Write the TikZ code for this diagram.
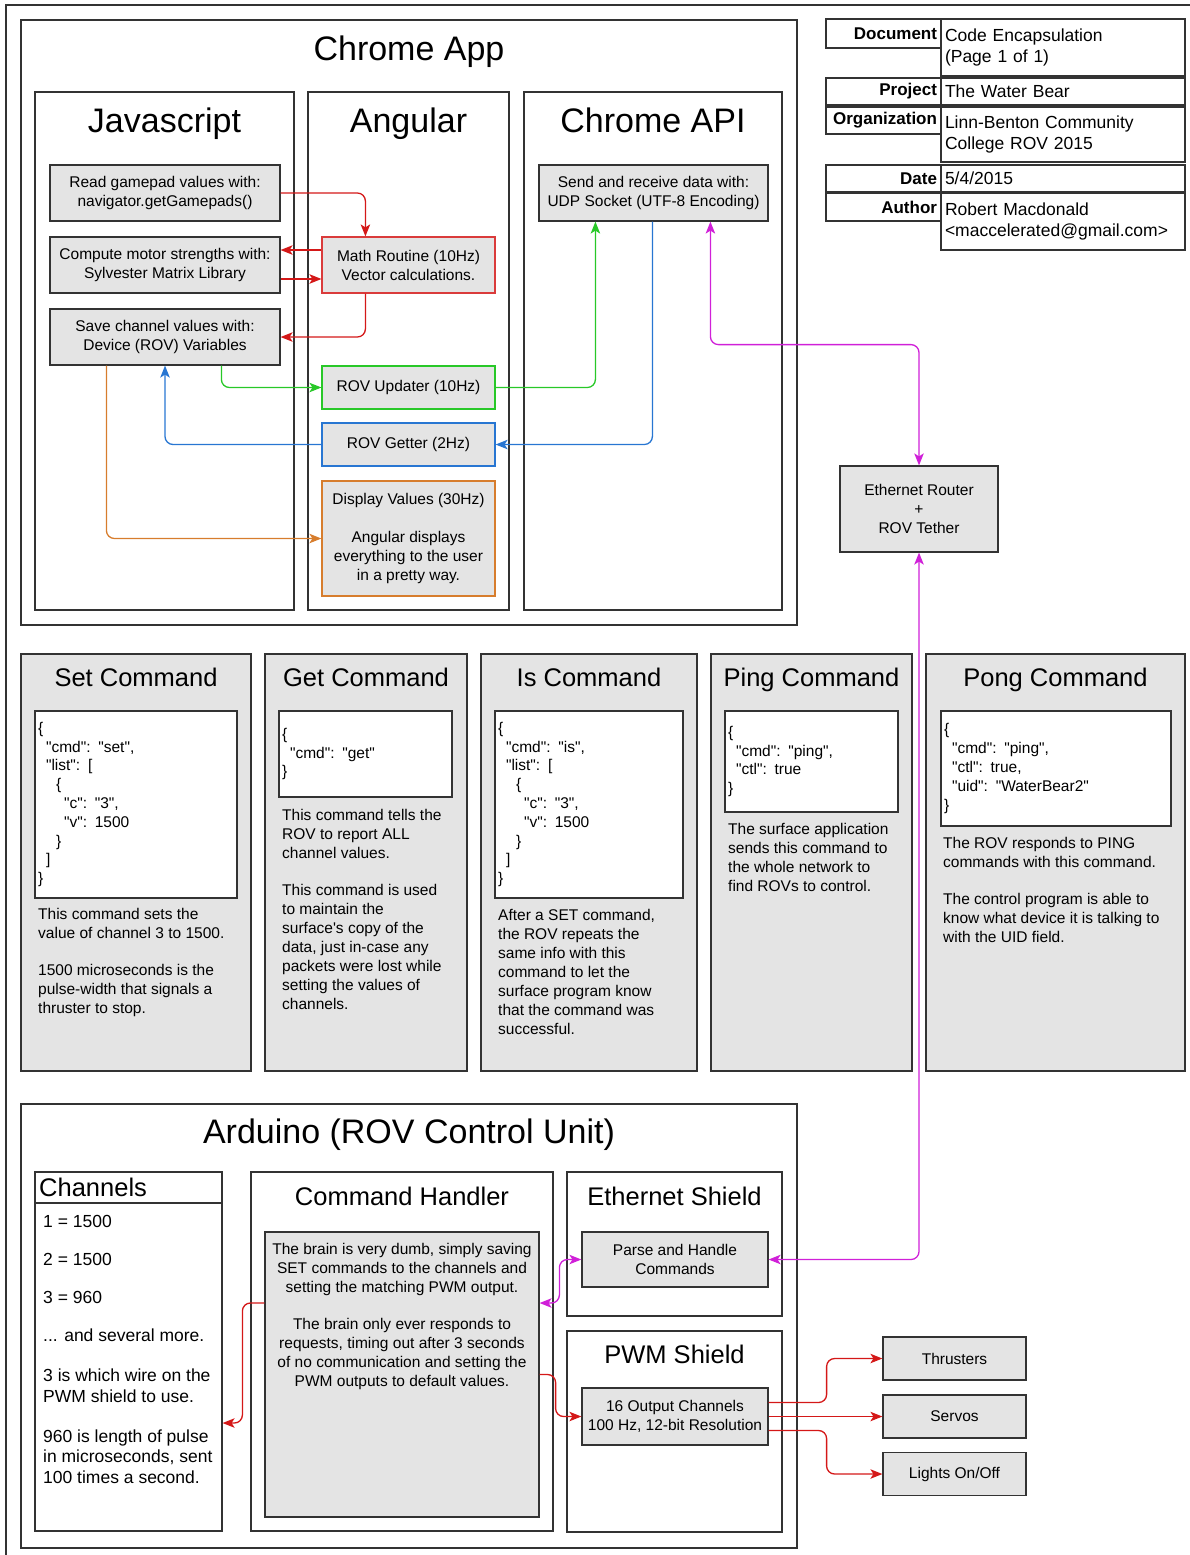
\documentclass[tikz,border=0pt]{standalone}
\usepackage{fontspec}
\setmainfont{Liberation Sans}[Ligatures=TeXOff]
\usetikzlibrary{arrows.meta}

\definecolor{boxgray}{RGB}{228,228,228}
\definecolor{framegray}{RGB}{51,51,51}
\definecolor{rovred}{RGB}{212,24,24}
\definecolor{rovgreen}{RGB}{40,200,40}
\definecolor{rovblue}{RGB}{40,118,210}
\definecolor{rovorange}{RGB}{215,125,45}
\definecolor{rovmagenta}{RGB}{208,32,216}

\begin{document}
\begin{tikzpicture}
    [x=1pt,y=-1pt,
    panel/.style={draw=framegray,line width=1.2pt,inner sep=0pt},
    graypanel/.style={panel,fill=boxgray},
    process/.style={draw=framegray,fill=boxgray,line width=1.2pt,align=center,
      inner sep=2pt,font=\fontsize{15.5}{19}\selectfont},
    json/.style={draw=framegray,fill=white,line width=1.2pt,align=left,
      inner sep=3pt,font=\fontsize{15.5}{18.8}\selectfont},
    note/.style={anchor=north west,align=left,inner sep=3pt,
      font=\fontsize{15.5}{19}\selectfont},
    heading/.style={anchor=base,inner sep=0pt,font=\fontsize{34}{40}\selectfont},
    subheading/.style={anchor=base,inner sep=0pt,font=\fontsize{25.5}{30}\selectfont},
    keycell/.style={draw=framegray,line width=1.2pt,text width=107pt,inner sep=4pt,
      align=right,font=\fontsize{17}{21}\selectfont\bfseries},
    valcell/.style={draw=framegray,line width=1.2pt,text width=236pt,inner sep=4pt,
      align=left,font=\fontsize{17.5}{21.5}\selectfont},
    link/.style={line width=1.3pt,rounded corners=8pt,
      -{Stealth[length=12pt,width=9.5pt,inset=3pt]}},
    duplex/.style={line width=1.3pt,rounded corners=8pt,
      {Stealth[length=12pt,width=9.5pt,inset=3pt]}-{Stealth[length=12pt,width=9.5pt,inset=3pt]}}]

    \useasboundingbox (0,0) rectangle (1190,1555);

    \draw[framegray,line width=1.2pt] (6,1555) -- (6,5) -- (1190,5);

    % chrome app
    \node[panel,minimum width=776pt,minimum height=605pt] (chrome app) at (409,322.5) {};
    \node[heading] (chrome app title) at (409,60) {Chrome App};

    \node[panel,minimum width=259pt,minimum height=518pt] (javascript) at (164.5,351) {};
    \node[heading] (javascript title) at (164.5,132) {Javascript};

    \node[panel,minimum width=201pt,minimum height=518pt] (angular) at (408.5,351) {};
    \node[heading] (angular title) at (408.5,132) {Angular};

    \node[panel,minimum width=258pt,minimum height=518pt] (chrome api) at (653,351) {};
    \node[heading] (chrome api title) at (653,132) {Chrome API};

    \node[process,minimum width=230pt,minimum height=56pt] (read gamepad) at (165,193)
      {Read gamepad values with:\\navigator.getGamepads()};
    \node[process,minimum width=230pt,minimum height=56pt] (compute motor) at (165,265)
      {Compute motor strengths with:\\Sylvester Matrix Library};
    \node[process,minimum width=230pt,minimum height=56pt] (save channel) at (165,337)
      {Save channel values with:\\Device (ROV) Variables};

    \node[process,draw=rovred!85,minimum width=173pt,minimum height=56pt] (math routine) at (408.5,265)
      {Math Routine (10Hz)\\Vector calculations.};
    \node[process,draw=rovgreen,minimum width=173pt,minimum height=43pt] (rov updater) at (408.5,387.5)
      {ROV Updater (10Hz)};
    \node[process,draw=rovblue,minimum width=173pt,minimum height=43pt] (rov getter) at (408.5,444.5)
      {ROV Getter (2Hz)};
    \node[process,draw=rovorange,minimum width=173pt,minimum height=115pt] (display values) at (408.5,538.5)
      {Display Values (30Hz)\\[19pt]Angular displays\\everything to the user\\in a pretty way.};

    \node[process,minimum width=229pt,minimum height=56pt] (send receive) at (653.5,193)
      {Send and receive data with:\\UDP Socket (UTF-8 Encoding)};

    \node[process,minimum width=158pt,minimum height=86pt] (ethernet router) at (919,509)
      {Ethernet Router\\+\\ROV Tether};

    % title block
    \node[keycell,minimum height=29pt] (document key) at (883.5,33.5) {Document};
    \node[valcell,minimum height=57pt] (document value) at (1063,47.5) {Code Encapsulation\\(Page 1 of 1)};
    \node[keycell,minimum height=27pt] (project key) at (883.5,91.5) {Project};
    \node[valcell,minimum height=27pt] (project value) at (1063,91.5) {The Water Bear};
    \node[keycell,minimum height=27pt] (organization key) at (883.5,120.5) {Organization};
    \node[valcell,minimum height=55pt] (organization value) at (1063,134.5) {Linn-Benton Community\\College ROV 2015};
    \node[keycell,minimum height=27pt] (date key) at (883.5,178.5) {Date};
    \node[valcell,minimum height=27pt] (date value) at (1063,178.5) {5/4/2015};
    \node[keycell,minimum height=28pt] (author key) at (883.5,207) {Author};
    \node[valcell,minimum height=57pt] (author value) at (1063,221.5) {Robert Macdonald\\<maccelerated@gmail.com>};

    % commands
    \node[graypanel,minimum width=230pt,minimum height=417pt] (set command) at (136,862.5) {};
    \node[subheading] (set title) at (136,686) {Set Command};
    \node[json,text width=196pt,minimum height=187pt] (set json) at (136,804.5)
      {\{\\
       \hspace*{8pt}"cmd": "set",\\
       \hspace*{8pt}"list": [\\
       \hspace*{18pt}\{\\
       \hspace*{26pt}"c": "3",\\
       \hspace*{26pt}"v": 1500\\
       \hspace*{18pt}\}\\
       \hspace*{8pt}]\\
       \}};
    \node[note] (set note) at (35,905.5)
      {This command sets the\\value of channel 3 to 1500.\\[18pt]1500 microseconds is the\\pulse-width that signals a\\thruster to stop.};

    \node[graypanel,minimum width=202pt,minimum height=417pt] (get command) at (366,862.5) {};
    \node[subheading] (get title) at (366,686) {Get Command};
    \node[json,text width=167pt,minimum height=86pt] (get json) at (365.5,754)
      {\{\\
       \hspace*{8pt}"cmd": "get"\\
       \}};
    \node[note] (get note) at (279,806)
      {This command tells the\\ROV to report ALL\\channel values.\\[18pt]This command is used\\to maintain the\\surface's copy of the\\data, just in-case any\\packets were lost while\\setting the values of\\channels.};

    \node[graypanel,minimum width=216pt,minimum height=417pt] (is command) at (589,862.5) {};
    \node[subheading] (is title) at (589,686) {Is Command};
    \node[json,text width=182pt,minimum height=187pt] (is json) at (589,804.5)
      {\{\\
       \hspace*{8pt}"cmd": "is",\\
       \hspace*{8pt}"list": [\\
       \hspace*{18pt}\{\\
       \hspace*{26pt}"c": "3",\\
       \hspace*{26pt}"v": 1500\\
       \hspace*{18pt}\}\\
       \hspace*{8pt}]\\
       \}};
    \node[note] (is note) at (495,906.5)
      {After a SET command,\\the ROV repeats the\\same info with this\\command to let the\\surface program know\\that the command was\\successful.};

    \node[graypanel,minimum width=201pt,minimum height=417pt] (ping command) at (811.5,862.5) {};
    \node[subheading] (ping title) at (811.5,686) {Ping Command};
    \node[json,text width=167pt,minimum height=101pt] (ping json) at (811.5,761.5)
      {\{\\
       \hspace*{8pt}"cmd": "ping",\\
       \hspace*{8pt}"ctl": true\\
       \}};
    \node[note] (ping note) at (725,820.5)
      {The surface application\\sends this command to\\the whole network to\\find ROVs to control.};

    \node[graypanel,minimum width=259pt,minimum height=417pt] (pong command) at (1055.5,862.5) {};
    \node[subheading] (pong title) at (1055.5,686) {Pong Command};
    \node[json,text width=224pt,minimum height=115pt] (pong json) at (1056,768.5)
      {\{\\
       \hspace*{8pt}"cmd": "ping",\\
       \hspace*{8pt}"ctl": true,\\
       \hspace*{8pt}"uid": "WaterBear2"\\
       \}};
    \node[note] (pong note) at (940,834.5)
      {The ROV responds to PING\\commands with this command.\\[18pt]The control program is able to\\know what device it is talking to\\with the UID field.};

    % arduino
    \node[panel,minimum width=776pt,minimum height=444pt] (arduino) at (409,1326) {};
    \node[heading] (arduino title) at (409,1143) {Arduino (ROV Control Unit)};

    \node[panel,minimum width=187pt,minimum height=31pt] (channel head) at (128.5,1187.5) {};
    \node[subheading,anchor=base west] (channels title) at (39,1196) {Channels};
    \node[panel,minimum width=187pt,minimum height=328pt] (channel list) at (128.5,1367) {};
    \node[note,font=\fontsize{17.5}{20.5}\selectfont] (channel values) at (40,1212)
      {1 = 1500\\[17.5pt]2 = 1500\\[17.5pt]3 = 960\\[17.5pt]... and several more.\\[20pt]3 is which wire on the\\PWM shield to use.\\[19.5pt]960 is length of pulse\\in microseconds, sent\\100 times a second.};

    \node[panel,minimum width=302pt,minimum height=359pt] (command handler) at (402,1351.5) {};
    \node[subheading] (command handler title) at (402,1205) {Command Handler};
    \node[process,minimum width=274pt,minimum height=285pt] (brain) at (402,1374.5) {};
    \node[note,anchor=north,align=center] (brain text) at (402,1240.5)
      {The brain is very dumb, simply saving\\SET commands to the channels and\\setting the matching PWM output.\\[18pt]The brain only ever responds to\\requests, timing out after 3 seconds\\of no communication and setting the\\PWM outputs to default values.};

    \node[panel,minimum width=215pt,minimum height=144pt] (ethernet shield) at (674.5,1244) {};
    \node[subheading] (ethernet shield title) at (674.5,1205) {Ethernet Shield};
    \node[process,minimum width=186pt,minimum height=55pt] (parse commands) at (675,1259.5)
      {Parse and Handle\\Commands};

    \node[panel,minimum width=215pt,minimum height=201pt] (pwm shield) at (674.5,1431.5) {};
    \node[subheading] (pwm shield title) at (674.5,1363) {PWM Shield};
    \node[process,minimum width=186pt,minimum height=57pt] (pwm outputs) at (675,1416.5)
      {16 Output Channels\\100 Hz, 12-bit Resolution};

    \node[process,minimum width=143pt,minimum height=43pt] (thrusters) at (954.5,1358.5) {Thrusters};
    \node[process,minimum width=143pt,minimum height=43pt] (servos) at (954.5,1416.5) {Servos};
    \node[process,minimum width=143pt,minimum height=43pt] (lights) at (954.5,1474) {Lights On/Off};

    % connectors
    \draw[link,rovred] (read gamepad.east) -| ([xshift=44pt]math routine.north west);
    \draw[link,rovred] ([yshift=15pt]math routine.west) -- ([yshift=15pt]compute motor.east);
    \draw[link,rovred] ([yshift=-14pt]compute motor.east) -- ([yshift=-14pt]math routine.west);
    \draw[link,rovred] ([xshift=44pt]math routine.south west) |- (save channel.east);
    \draw[link,rovgreen] ([xshift=172pt]save channel.south west) |- (rov updater.west);
    \draw[link,rovgreen] (rov updater.east) -| ([xshift=57pt]send receive.south west);
    \draw[link,rovblue] ([xshift=114pt]send receive.south west) |- (rov getter.east);
    \draw[link,rovblue] (rov getter.west) -| (save channel.south);
    \draw[link,rovorange] ([xshift=57pt]save channel.south west) |- (display values.west);
    \draw[duplex,rovmagenta] ([xshift=172pt]send receive.south west) -- ++(0,123) -| (ethernet router.north);
    \draw[duplex,rovmagenta] (ethernet router.south) |- (parse commands.east);
    \draw[duplex,rovmagenta] (parse commands.west) -- ++(-22,0) |- ([yshift=71.5pt]brain.east);
    \draw[link,rovred] ([yshift=71.5pt]brain.west) -- ++(-22,0) |- ([yshift=-56pt]channel list.east);
    \draw[link,rovred] (brain.east) -- ++(16,0) |- (pwm outputs.west);
    \draw[link,rovred] ([yshift=14pt]pwm outputs.east) -- ++(58,0) |- (thrusters.west);
    \draw[link,rovred] (pwm outputs.east) -- (servos.west);
    \draw[link,rovred] ([yshift=-14pt]pwm outputs.east) -- ++(58,0) |- (lights.west);

\end{tikzpicture}
\end{document}
